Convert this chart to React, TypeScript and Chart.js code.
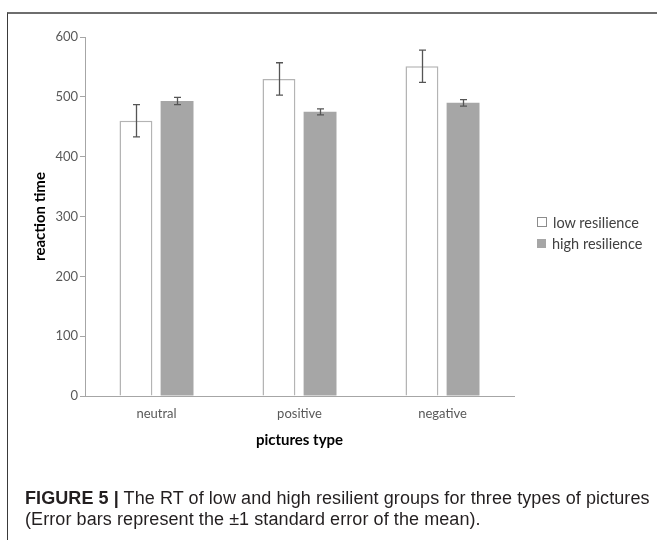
import React, { useEffect, useRef } from "react";
import { Chart, registerables } from "chart.js";

Chart.register(...registerables);

const categories = ["neutral", "positive", "negative"];
const lowValues = [460, 530, 551];
const lowErrors = [27, 27, 27];
const highValues = [493, 475, 490];
const highErrors = [6, 5, 5.5];
const seriesNames = ["low resilience", "high resilience"];
const yTicks = [0, 100, 200, 300, 400, 500, 600];

const errorBarPlugin = {
  id: "errorBars",
  afterDatasetsDraw(chart: any) {
    const ctx = chart.ctx;
    const yScale = chart.scales.y;
    const errs = [lowErrors, highErrors];
    ctx.save();
    ctx.strokeStyle = "#555555";
    ctx.lineWidth = 1.3;
    chart.data.datasets.forEach((ds: any, i: number) => {
      const meta = chart.getDatasetMeta(i);
      meta.data.forEach((bar: any, j: number) => {
        const v = ds.data[j];
        const e = errs[i][j];
        const x = Math.round(bar.x) + 0.5;
        const yt = yScale.getPixelForValue(v + e);
        const yb = yScale.getPixelForValue(v - e);
        const cap = 3.5;
        ctx.beginPath();
        ctx.moveTo(x, yt);
        ctx.lineTo(x, yb);
        ctx.moveTo(x - cap, yt);
        ctx.lineTo(x + cap, yt);
        ctx.moveTo(x - cap, yb);
        ctx.lineTo(x + cap, yb);
        ctx.stroke();
      });
    });
    ctx.restore();
  },
};

export default function App() {
  const ref = useRef<HTMLCanvasElement>(null);

  useEffect(() => {
    if (!ref.current) return;
    const chart = new Chart(ref.current, {
      type: "bar",
      data: {
        labels: categories,
        datasets: [
          {
            label: seriesNames[0],
            data: lowValues,
            backgroundColor: "#ffffff",
            borderColor: "#b4b4b4",
            borderWidth: 1.5,
            categoryPercentage: 0.575,
            barPercentage: 0.8,
          },
          {
            label: seriesNames[1],
            data: highValues,
            backgroundColor: "#a6a6a6",
            borderColor: "#a6a6a6",
            borderWidth: 0,
            categoryPercentage: 0.575,
            barPercentage: 0.8,
          },
        ],
      },
      options: {
        responsive: false,
        animation: false,
        devicePixelRatio: 1,
        layout: { padding: { left: 0, right: 143, top: 37, bottom: 84 } },
        plugins: {
          legend: { display: false },
          tooltip: { enabled: false },
        },
        scales: {
          x: {
            afterFit: (s: any) => {
              s.height = 60;
            },
            grid: { display: false, drawTicks: false },
            border: { display: true, color: "#a6a6a6", width: 1 },
            ticks: {
              color: "#595959",
              font: { family: "Lato, 'Open Sans', sans-serif", size: 13 },
              padding: 10,
            },
            title: {
              display: true,
              text: "pictures type",
              color: "#000000",
              font: { family: "Lato, 'Open Sans', sans-serif", size: 15, weight: "bold" },
              padding: { top: 0, bottom: 7 },
            },
          },
          y: {
            min: 0,
            max: 600,
            afterFit: (s: any) => {
              s.width = 85;
            },
            afterBuildTicks: (s: any) => {
              s.ticks = yTicks.map((v) => ({ value: v }));
            },
            grid: {
              display: true,
              drawOnChartArea: false,
              drawTicks: true,
              tickLength: 5,
              color: "#a6a6a6",
            },
            border: { display: true, color: "#a6a6a6", width: 1 },
            ticks: {
              color: "#595959",
              font: { family: "Lato, 'Open Sans', sans-serif", size: 13 },
              padding: 2,
              stepSize: 100,
            },
            title: {
              display: true,
              text: "reaction time",
              color: "#000000",
              font: { family: "Lato, 'Open Sans', sans-serif", size: 15, weight: "bold" },
              padding: { top: 31, bottom: 0 },
            },
          },
        },
      },
      plugins: [errorBarPlugin],
    });
    return () => chart.destroy();
  }, []);

  const legendFont = "Lato, 'Open Sans', sans-serif";

  return (
    <div style={{ position: "absolute", left: 0, top: 0, width: 657, height: 540, overflow: "hidden", background: "#ffffff" }}>
      <div
        style={{
          position: "absolute",
          left: 7,
          top: 12,
          width: 660,
          height: 540,
          borderTop: "2px solid #6e6e6e",
          borderLeft: "1px solid #3a3a3a",
        }}
      />
      <canvas ref={ref} width={657} height={540} style={{ position: "absolute", left: 0, top: 0 }} />
      {seriesNames.map((name, i) => (
        <div
          key={name}
          style={{
            position: "absolute",
            left: 537,
            top: 213 + i * 21,
            height: 18,
            display: "flex",
            alignItems: "center",
            fontFamily: legendFont,
            fontSize: 14.5,
            color: "#404040",
            whiteSpace: "nowrap",
          }}
        >
          <span
            style={{
              display: "inline-block",
              width: i === 0 ? 8 : 9,
              height: i === 0 ? 8 : 9,
              border: i === 0 ? "1px solid #8c8c8c" : "none",
              background: i === 0 ? "#ffffff" : "#a6a6a6",
              marginRight: 6,
            }}
          />
          {name}
        </div>
      ))}
      <div
        style={{
          position: "absolute",
          left: 25,
          top: 488,
          width: 640,
          fontFamily: "'Liberation Sans', Arial, sans-serif",
          fontSize: 18,
          lineHeight: "21px",
          letterSpacing: "0.08px",
          color: "#231f20",
          whiteSpace: "nowrap",
        }}
      >
        <div>
          <b>FIGURE 5 |</b> The RT of low and high resilient groups for three types of pictures
        </div>
        <div>(Error bars represent the ±1 standard error of the mean).</div>
      </div>
    </div>
  );
}
